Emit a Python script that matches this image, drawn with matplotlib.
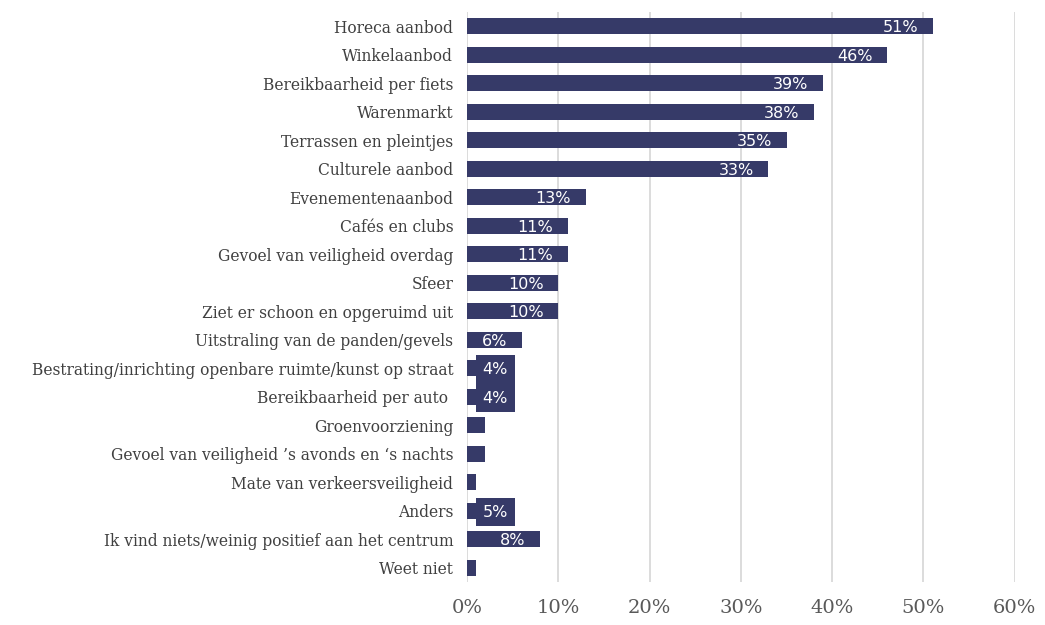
import matplotlib.pyplot as plt
import numpy as np

categories = [
    "Horeca aanbod", "Winkelaanbod", "Bereikbaarheid per fiets", "Warenmarkt",
    "Terrassen en pleintjes", "Culturele aanbod", "Evenementenaanbod",
    "Cafés en clubs", "Gevoel van veiligheid overdag", "Sfeer",
    "Ziet er schoon en opgeruimd uit", "Uitstraling van de panden/gevels",
    "Bestrating/inrichting openbare ruimte/kunst op straat",
    "Bereikbaarheid per auto ", "Groenvoorziening",
    "Gevoel van veiligheid \u2019s avonds en \u2018s nachts",
    "Mate van verkeersveiligheid", "Anders",
    "Ik vind niets/weinig positief aan het centrum", "Weet niet",
]
values = [51, 46, 39, 38, 35, 33, 13, 11, 11, 10, 10, 6, 4, 4, 2, 2, 1, 5, 8, 1]
# labels shown on the bars (None = no readable label)
labels = ["51%", "46%", "39%", "38%", "35%", "33%", "13%", "11%", "11%", "10%",
          "10%", "6%", "4%", "4%", None, None, None, "5%", "8%", None]

bar_color = "#363a68"

fig = plt.figure(figsize=(10.45, 6.25), dpi=100)
ax = fig.add_axes([0.447, 0.069, 0.524, 0.912])

y = np.arange(len(categories))
ax.barh(y, values, height=0.56, color=bar_color, zorder=3)

for yi, v, lab in zip(y, values, labels):
    if lab is None:
        continue
    if v >= 6:
        ax.text(v - 1.6, yi + 0.05, lab, ha="right", va="center", color="white",
                fontsize=11.5, family="DejaVu Sans", zorder=4)
    else:
        # overflowing label with filled box
        ax.text(3.1, yi + 0.05, lab, ha="center", va="center", color="white",
                fontsize=11.5, family="DejaVu Sans", zorder=4,
                bbox=dict(boxstyle="square,pad=0.42", fc=bar_color, ec="none"))

ax.set_ylim(len(categories) - 0.5, -0.5)
ax.set_xlim(0, 60)
ax.set_xticks(np.arange(0, 61, 10))
ax.set_xticklabels([f"{t}%" for t in range(0, 61, 10)], family="DejaVu Serif",
                   fontsize=14, color="#595959")
ax.set_yticks(y)
ax.set_yticklabels(categories, family="DejaVu Serif", fontsize=11.2, color="#404040")
ax.tick_params(axis="both", length=0)
ax.tick_params(axis="x", pad=12)
ax.tick_params(axis="y", pad=10)
ax.grid(axis="x", color="#d9d9d9", linewidth=1.3, zorder=0)
for s in ax.spines.values():
    s.set_visible(False)

plt.savefig("out.png", dpi=100)
